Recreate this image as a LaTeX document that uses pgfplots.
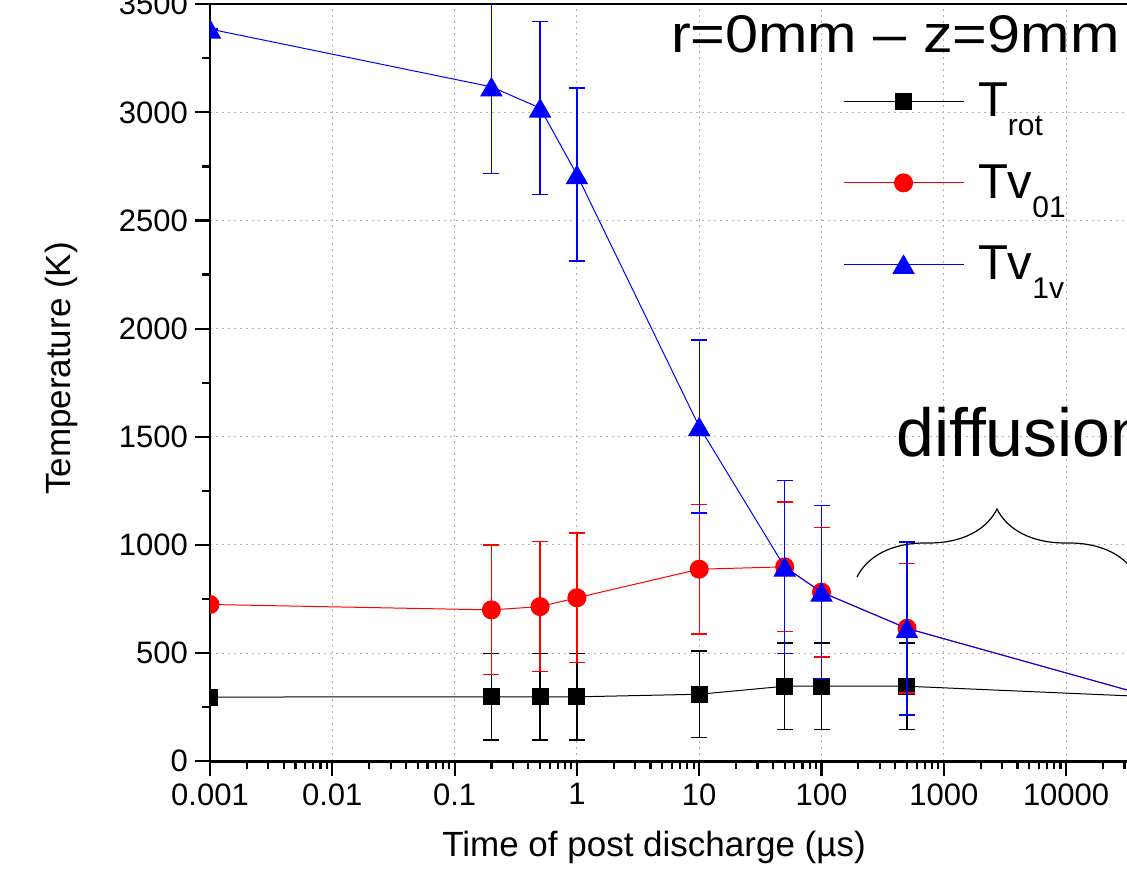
\documentclass[border=0pt]{standalone}
\usepackage{fontspec}
\setmainfont{Liberation Sans}
\usepackage{graphicx}
\usepackage{pgfplots}
\usepackage{pgfplotstable}
\pgfplotsset{compat=1.18}
\usetikzlibrary{decorations.pathreplacing}

\pgfplotstableread{
x y e
0.001 297 0
0.2 298 200
0.5 298 200
1 298 200
10 310 200
50 347 200
100 347 200
500 347 200
50000 298 200
}\trot

\pgfplotstableread{
x y e
0.001 725 0
0.2 700 300
0.5 715 300
1 756 300
10 888 300
50 899 300
100 782 300
500 615 300
50000 298 300
}\tvzero

\pgfplotstableread{
x y e
0.001 3385 0
0.2 3118 400
0.5 3020 400
1 2712 400
10 1547 400
50 898 400
100 782 400
500 614 400
50000 298 400
}\tvone

\begin{document}
\begin{tikzpicture}
\path[use as bounding box] (-105pt,-60.35pt) rectangle (458.5pt,380.65pt);
\clip (-105pt,-60.35pt) rectangle (458.5pt,380.65pt);
\begin{axis}[
  scale only axis, width=489.2pt, height=378.55pt,
  xmode=log, xmin=1e-3, xmax=1e5, ymin=0, ymax=3500,
  xtick={1e-3,1e-2,1e-1,1,10,100,1000,10000,100000},
  xticklabels={0.001,0.01,0.1,1,10,100,1000,10000,{}},
  minor xtick={0.002,0.003,0.004,0.005,0.006,0.007,0.008,0.009,
    0.02,0.03,0.04,0.05,0.06,0.07,0.08,0.09,
    0.2,0.3,0.4,0.5,0.6,0.7,0.8,0.9,
    2,3,4,5,6,7,8,9,
    20,30,40,50,60,70,80,90,
    200,300,400,500,600,700,800,900,
    2000,3000,4000,5000,6000,7000,8000,9000,
    20000,30000,40000,50000,60000,70000,80000,90000},
  ytick={0,500,1000,1500,2000,2500,3000,3500},
  minor y tick num=1,
  tick align=outside, xtick pos=left, ytick pos=left,
  major tick length=7.5pt, minor tick length=4pt,
  every tick/.style={black, line width=1.1pt},
  axis line style={line width=1.2pt},
  grid=major,
  major grid style={black!30, line width=0.5pt, dash pattern=on 1pt off 2pt},
  clip marker paths=true,
  tick label style={font=\fontsize{15.5}{18}\selectfont},
  /pgf/number format/assume math mode=true,
  /pgf/number format/1000 sep={},
  xlabel={Time of post discharge (µs)},
  ylabel={Temperature (K)},
  label style={font=\fontsize{17.5}{20}\selectfont},
  xlabel style={at={(axis description cs:0.4538,-0.126)}, anchor=base},
  ylabel style={at={(axis description cs:-0.1425,0.5188)}, anchor=base},
  legend image code/.code={\draw[mark repeat=2,mark phase=2,#1] plot coordinates {(0pt,0pt) (30pt,0pt) (60pt,0pt)};},
  legend style={at={(axis description cs:0.647,0.8959)}, anchor=north west,
    draw=none, fill=none, inner sep=0pt, outer sep=0pt,
    row sep=22.4pt, column sep=7pt,
    font=\fontsize{24.5}{24.5}\selectfont,
    nodes={inner sep=0pt}},
  legend cell align=left,
  error bars/y dir=both, error bars/y explicit,
  error bars/error bar style={line width=0.7pt},
  error bars/error mark options={rotate=90, mark size=4pt, line width=0.7pt},
]
\addplot[color=black, line width=0.5pt, mark=square*, mark size=4pt]
  table[x=x, y=y, y error=e] {\trot};
\addlegendentry{T\raisebox{-9.5pt}{\fontsize{15}{15}\selectfont rot}}
\addplot[color=red, line width=0.5pt, mark=*, mark size=4.5pt]
  table[x=x, y=y, y error=e] {\tvzero};
\addlegendentry{Tv\raisebox{-9.5pt}{\fontsize{15}{15}\selectfont 01}}
\addplot[color=blue, line width=0.5pt, mark=triangle*, mark size=6pt, mark options={yshift=-1.5pt}]
  table[x=x, y=y, y error=e] {\tvone};
\addlegendentry{Tv\raisebox{-9.5pt}{\fontsize{15}{15}\selectfont 1v}}
\end{axis}
\node[anchor=base east, inner sep=0pt] at (455pt,354.3pt)
  {\scalebox{1.12}[1]{\fontsize{26.5}{26.5}\selectfont r=0mm – z=9mm}};
\node[anchor=base west, inner sep=0pt] at (343pt,152.3pt)
  {\fontsize{34}{34}\selectfont diffusion};
\draw[line width=0.6pt, decorate, decoration={brace, amplitude=34pt}]
  (323.5pt,92.15pt) -- (463.5pt,92.15pt);
\end{tikzpicture}
\end{document}
